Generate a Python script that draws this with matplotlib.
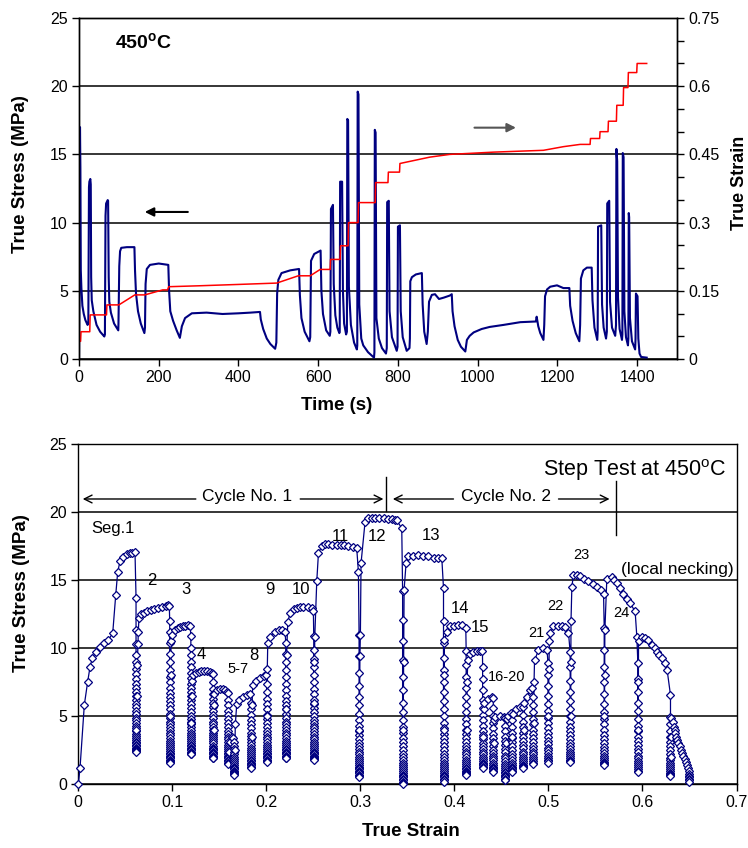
#!/usr/bin/env python3
"""Step test at 450 C: stress / strain time history and the stress-strain curve."""

import matplotlib

matplotlib.use("Agg")
import matplotlib.pyplot as plt
from matplotlib.ticker import FixedLocator, MultipleLocator

NAVY = "#000080"
FIG_W, FIG_H = 748, 848

plt.rcParams["font.family"] = ["Liberation Sans", "DejaVu Sans"]
plt.rcParams["mathtext.fontset"] = "custom"
plt.rcParams["mathtext.rm"] = "Liberation Sans"
plt.rcParams["mathtext.bf"] = "Liberation Sans:bold"

# ---------------------------------------------------------------- top panel
# (time s, true stress MPa)
stress_history = [
    (0, 0), (1.5, 6.0), (2.5, 17.0), (3.5, 14.0), (4.5, 6.5), (6, 5.2), (8.5, 3.9),
    (12, 3.3), (16, 2.85), (21.5, 2.5),
    (23.4, 2.6), (25, 12.6), (26, 13.0), (28.4, 13.2), (29.5, 12.8), (30.5, 6.0),
    (32, 4.3), (36, 3.5), (44, 2.5), (53, 2.0), (63.5, 1.65),
    (65, 1.8), (66.5, 10.5), (68, 11.4), (72, 11.65), (73, 11.6), (74.5, 6.0),
    (76, 4.2), (80, 3.4), (88, 2.6), (98.5, 2.1),
    (99, 2.6), (101, 6.8), (103, 7.9), (106, 8.15), (120, 8.2), (139, 8.2),
    (140.5, 6.5), (143, 4.8), (148, 3.5), (155, 2.6), (164, 1.9),
    (165.5, 2.3), (167, 5.5), (170, 6.6), (178, 6.9), (200, 7.0), (224, 6.9),
    (226, 5.0), (229, 3.5), (236, 2.8), (245, 2.1), (253, 1.55),
    (258, 2.4), (266, 3.0), (283, 3.35), (320, 3.4), (360, 3.3), (400, 3.35),
    (430, 3.4), (454, 3.45), (456, 2.9), (462, 2.2), (471, 1.5), (480, 1.1), (492, 0.75),
    (495, 1.2), (497, 4.8), (500, 5.8), (508, 6.3), (530, 6.5), (552, 6.6),
    (554, 4.7), (558, 3.0), (566, 2.0), (578, 1.3),
    (580, 1.6), (582, 7.2), (590, 7.7), (606, 7.95), (608, 5.0), (612, 3.3),
    (620, 2.1), (629, 1.7),
    (630.5, 2.0), (632, 11.0), (637, 11.3), (639, 5.5), (643, 3.2), (648, 2.3), (653, 1.9),
    (654, 2.0), (655, 13.0), (660, 13.0), (662, 5.0), (665, 2.6), (670, 1.8),
    (672, 2.0), (673, 17.6), (675, 17.5), (677, 5.3), (682, 2.5), (690, 1.2), (697, 0.7),
    (698, 1.0), (699, 19.6), (701, 19.4), (703, 4.0), (708, 1.5), (713, 1.0),
    (725, 0.5), (740, 0.1),
    (741, 0.5), (742, 16.8), (744, 16.6), (746, 3.0), (752, 1.5), (760, 0.8), (770, 0.4),
    (772, 0.8), (773, 11.5), (777, 11.6), (779, 3.5), (785, 1.6), (797, 0.6),
    (799, 0.9), (800, 9.7), (805, 9.8), (807, 3.5), (812, 1.6), (822, 0.6), (829, 0.8),
    (830, 1.5), (831, 5.7), (835, 6.0), (845, 6.2), (860, 6.3), (862, 4.0),
    (866, 2.0), (872, 1.1),
    (875, 2.0), (878, 4.2), (885, 4.7), (893, 4.75), (903, 4.4), (915, 4.5),
    (930, 4.65), (935, 4.75), (937, 3.5), (942, 2.4), (950, 1.4), (958, 0.9), (969, 0.55),
    (973, 1.4), (980, 1.7), (990, 1.95), (1010, 2.2), (1030, 2.35), (1065, 2.5),
    (1107, 2.7), (1146, 2.75), (1148, 3.1), (1152, 2.4), (1157, 1.9), (1165, 1.4),
    (1167, 2.5), (1169, 4.6), (1174, 5.1), (1182, 5.3), (1199, 5.4), (1215, 5.2),
    (1230, 5.2), (1232, 3.9), (1238, 2.8), (1246, 1.9), (1255, 1.3),
    (1257, 2.5), (1259, 5.9), (1265, 6.5), (1274, 6.7), (1286, 6.7), (1288, 4.3),
    (1293, 2.3), (1300, 1.4),
    (1301, 2.0), (1302, 9.7), (1310, 9.8), (1312, 4.0), (1316, 2.3), (1322, 1.5),
    (1324, 2.0), (1325, 11.4), (1330, 11.6), (1332, 4.2), (1337, 2.3), (1345, 1.7),
    (1347, 2.5), (1348, 15.4), (1350, 14.5), (1352, 4.5), (1356, 2.2), (1362, 1.4),
    (1363, 1.8), (1364, 15.1), (1366, 14.8), (1368, 3.5), (1372, 1.6), (1377, 1.0),
    (1378, 1.5), (1379, 10.7), (1380, 10.4), (1382, 3.0), (1387, 1.3), (1395, 0.7),
    (1396, 1.5), (1397, 4.8), (1401, 4.6), (1403, 1.5), (1406, 0.4), (1410, 0.15),
    (1424, 0.1),
]

# (time s, true strain)
strain_history = [
    (0, 0.039), (4, 0.039), (5, 0.060), (27, 0.060), (28, 0.097), (69, 0.097),
    (70, 0.119), (100, 0.119), (140, 0.141), (165, 0.141), (210, 0.152), (222, 0.152),
    (225, 0.159), (300, 0.161), (400, 0.164), (496, 0.167), (550, 0.183), (580, 0.183),
    (605, 0.197), (630, 0.197), (631, 0.219), (655, 0.219), (656, 0.249), (675, 0.249),
    (676, 0.300), (700, 0.300), (701, 0.344), (743, 0.344), (744, 0.388), (775, 0.388),
    (776, 0.411), (804, 0.411), (805, 0.430), (880, 0.444), (930, 0.450), (1040, 0.455),
    (1165, 0.459), (1215, 0.467), (1257, 0.472), (1282, 0.472), (1283, 0.485),
    (1306, 0.485), (1307, 0.500), (1327, 0.500), (1328, 0.523), (1348, 0.523),
    (1349, 0.558), (1365, 0.558), (1366, 0.597), (1377, 0.597), (1378, 0.630),
    (1399, 0.630), (1400, 0.650), (1424, 0.650),
]

# ------------------------------------------------------------- bottom panel
# loading + steady part of every segment: (true strain, true stress MPa)
loading_paths = [
    [(0, 0), (0.0018, 1.17), (0.0064, 5.83), (0.0100, 7.55), (0.0125, 8.64),
     (0.0149, 9.26), (0.0185, 9.73), (0.0231, 10.1), (0.0277, 10.36), (0.032, 10.6),
     (0.0366, 11.1), (0.0398, 13.9), (0.0419, 15.6), (0.0444, 16.4), (0.048, 16.7),
     (0.0514, 16.9), (0.055, 16.99), (0.0575, 17.0), (0.0603, 17.06)],
    [(0.0617, 4.0), (0.0621, 6.5), (0.0627, 8.8), (0.0635, 10.3), (0.0638, 11.2),
     (0.0645, 12.2), (0.067, 12.5), (0.070, 12.6), (0.073, 12.7), (0.077, 12.8),
     (0.081, 12.9), (0.085, 12.95), (0.089, 13.0), (0.093, 13.1), (0.0955, 13.2),
     (0.0968, 13.1)],
    [(0.0978, 5.0), (0.0982, 8.0), (0.0986, 10.5), (0.1000, 11.0), (0.1030, 11.35),
     (0.106, 11.45), (0.1080, 11.55), (0.111, 11.6), (0.1140, 11.65), (0.1170, 11.7),
     (0.1190, 11.6)],
    [(0.1200, 4.5), (0.1205, 6.5), (0.1210, 7.6), (0.1220, 8.0), (0.1250, 8.2),
     (0.128, 8.28), (0.1310, 8.3), (0.134, 8.3), (0.1370, 8.3), (0.140, 8.28),
     (0.1420, 8.2), (0.1430, 8.1)],
    [(0.1438, 4.0), (0.1442, 5.8), (0.1448, 6.6), (0.1480, 6.9), (0.1510, 7.0),
     (0.1540, 7.0), (0.1560, 6.95), (0.1580, 6.8), (0.1588, 6.7)],
    [(0.1598, 2.4), (0.1610, 3.1), (0.1630, 3.45), (0.1650, 3.4)],
    [(0.1665, 2.5), (0.1670, 4.4), (0.1685, 5.9), (0.1710, 6.2), (0.1750, 6.4),
     (0.1790, 6.55), (0.1830, 6.6)],
    [(0.1842, 3.5), (0.1848, 5.8), (0.1855, 7.3), (0.1890, 7.6), (0.1930, 7.8),
     (0.1970, 7.95), (0.2000, 8.0)],
    [(0.2008, 5.0), (0.2010, 8.5), (0.2015, 10.4), (0.2039, 10.85), (0.2090, 11.2),
     (0.2130, 11.3), (0.2167, 11.3), (0.2200, 11.2)],
    [(0.2210, 5.5), (0.2215, 9.5), (0.2228, 11.95), (0.2253, 12.6), (0.2290, 12.85),
     (0.2324, 12.95), (0.2360, 13.05), (0.2394, 13.06), (0.2440, 13.0), (0.2483, 12.95),
     (0.2500, 12.7)],
    [(0.2508, 6.0), (0.2512, 9.0), (0.2515, 10.85), (0.2536, 14.9), (0.2554, 16.98),
     (0.2590, 17.5), (0.2625, 17.65), (0.2660, 17.67), (0.2700, 17.6), (0.2750, 17.6),
     (0.2790, 17.55), (0.2830, 17.55), (0.2870, 17.5), (0.2920, 17.45), (0.2961, 17.35),
     (0.2979, 15.6)],
    [(0.2990, 4.0), (0.2995, 9.4), (0.3000, 11.0), (0.3007, 16.25), (0.3050, 19.3),
     (0.3086, 19.55), (0.3120, 19.55), (0.3160, 19.55), (0.3200, 19.6), (0.3250, 19.6),
     (0.3290, 19.5), (0.3334, 19.5), (0.3369, 19.43), (0.3387, 19.4), (0.3440, 18.8)],
    [(0.3455, 4.0), (0.3460, 9.0), (0.3465, 14.3), (0.3486, 16.25), (0.3511, 16.75),
     (0.3560, 16.8), (0.3617, 16.86), (0.3670, 16.8), (0.3724, 16.74), (0.3780, 16.65),
     (0.3830, 16.6), (0.3866, 16.6), (0.3884, 14.4)],
    [(0.3888, 4.0), (0.3891, 8.0), (0.3894, 10.6), (0.3919, 11.2), (0.3955, 11.6),
     (0.4000, 11.65), (0.4040, 11.7), (0.4079, 11.7), (0.4121, 11.45)],
    [(0.4130, 4.0), (0.4135, 7.5), (0.4142, 9.1), (0.4167, 9.6), (0.4200, 9.75),
     (0.4238, 9.8), (0.4270, 9.8), (0.4298, 9.8)],
    [(0.4303, 3.5), (0.4310, 5.5), (0.4318, 6.0), (0.4362, 6.3), (0.4400, 6.4),
     (0.4412, 6.35)],
    [(0.4420, 3.0), (0.4425, 4.7), (0.4432, 4.97), (0.4480, 5.0), (0.4526, 4.95),
     (0.4540, 4.85)],
    [(0.4550, 3.0), (0.4555, 4.8), (0.4570, 5.0), (0.4600, 5.25)],
    [(0.4615, 3.5), (0.4620, 5.2), (0.4650, 5.5), (0.4700, 5.7), (0.4725, 5.7)],
    [(0.4740, 4.0), (0.4745, 5.95), (0.4770, 6.45), (0.4806, 6.9), (0.4830, 7.05)],
    [(0.4843, 4.5), (0.4847, 7.5), (0.4852, 9.1), (0.4894, 9.85), (0.4947, 10.0),
     (0.4985, 9.9)],
    [(0.5000, 5.0), (0.5005, 8.5), (0.5010, 10.5), (0.5018, 11.1), (0.5053, 11.6),
     (0.5100, 11.65), (0.5140, 11.6), (0.5178, 11.55), (0.5213, 11.15)],
    [(0.5236, 5.0), (0.5238, 9.0), (0.5240, 12.0), (0.5249, 14.5), (0.5266, 15.4),
     (0.5302, 15.4), (0.5337, 15.27), (0.5380, 15.1), (0.5426, 14.9), (0.5470, 14.7),
     (0.5515, 14.5), (0.5560, 14.25), (0.5586, 14.0)],
    [(0.5596, 5.0), (0.5598, 8.0), (0.5600, 11.3), (0.5621, 15.1), (0.5674, 15.2),
     (0.5700, 15.0), (0.5727, 14.8), (0.5760, 14.4), (0.5798, 14.0), (0.5835, 13.6),
     (0.5869, 13.3), (0.5922, 12.7), (0.5940, 10.85)],
    [(0.5955, 4.0), (0.5956, 7.5), (0.5958, 10.5), (0.6000, 10.85), (0.6030, 10.75),
     (0.6060, 10.6), (0.6103, 10.24), (0.6130, 10.0), (0.6156, 9.75), (0.6180, 9.5),
     (0.6209, 9.26), (0.6240, 8.9), (0.6262, 8.4), (0.6298, 6.56)],
    [(0.6302, 2.0), (0.6304, 3.5), (0.6306, 4.9), (0.6320, 4.55), (0.6333, 4.2),
     (0.6342, 4.0), (0.6350, 3.75), (0.6360, 3.5), (0.6369, 3.25), (0.6380, 3.05),
     (0.6395, 2.8), (0.6408, 2.55), (0.6422, 2.28), (0.6435, 2.05), (0.6450, 1.85),
     (0.6462, 1.65), (0.6475, 1.42), (0.6485, 1.2), (0.6493, 0.95), (0.6495, 0.75)],
]

# strain at which each segment relaxes, and the stress readings while it relaxes
relax_strain = [
    0.0614, 0.0972, 0.1197, 0.1435, 0.1592, 0.1660, 0.1838, 0.2004, 0.2206, 0.2504,
    0.2986, 0.3449, 0.3884, 0.4125, 0.4300, 0.4415, 0.4543, 0.4610, 0.4732, 0.4838,
    0.4995, 0.5231, 0.5593, 0.5951, 0.6298, 0.6495,
]
relax_stress = [
    [13.7, 11.3, 10.3, 9.5, 9.0, 8.5, 8.1, 7.7, 7.4, 7.1, 6.8, 6.5, 6.2, 5.9, 5.7, 5.4,
     5.2, 4.9, 4.7, 4.5, 4.3, 4.1, 3.9, 3.7, 3.55, 3.4, 3.25, 3.1, 3.0, 2.9, 2.8, 2.7,
     2.6, 2.55, 2.5, 2.45, 2.4],
    [12.0, 11.2, 10.4, 9.6, 9.0, 8.4, 7.9, 7.5, 7.1, 6.7, 6.4, 6.1, 5.8, 5.5, 5.2, 4.9,
     4.6, 4.4, 4.2, 4.0, 3.8, 3.6, 3.4, 3.2, 3.05, 2.9, 2.75, 2.6, 2.45, 2.3, 2.2, 2.1,
     2.0, 1.9, 1.8, 1.7, 1.65, 1.6],
    [10.9, 10.0, 9.5, 9.0, 8.6, 8.2, 7.8, 7.4, 7.1, 6.8, 6.5, 6.2, 5.9, 5.6, 5.3, 5.0,
     4.8, 4.6, 4.4, 4.2, 4.0, 3.8, 3.6, 3.45, 3.3, 3.15, 3.0, 2.9, 2.8, 2.7, 2.6, 2.5,
     2.4, 2.3, 2.25, 2.2],
    [7.5, 7.0, 6.6, 6.3, 6.0, 5.7, 5.4, 5.1, 4.9, 4.6, 4.4, 4.2, 4.0, 3.8, 3.6, 3.45,
     3.3, 3.15, 3.0, 2.85, 2.7, 2.6, 2.5, 2.4, 2.3, 2.2, 2.1, 2.0, 1.95, 1.9],
    [6.2, 5.8, 5.4, 5.1, 4.8, 4.5, 4.2, 3.9, 3.7, 3.5, 3.3, 3.1, 2.9, 2.75, 2.6, 2.45,
     2.3, 2.2, 2.1, 2.0, 1.9, 1.8, 1.7, 1.6, 1.55, 1.5],
    [3.1, 2.8, 2.6, 2.4, 2.2, 2.0, 1.85, 1.7, 1.55, 1.4, 1.3, 1.2, 1.1, 1.0, 0.9, 0.8,
     0.75, 0.7],
    [6.0, 5.5, 5.1, 4.7, 4.4, 4.1, 3.8, 3.55, 3.3, 3.1, 2.9, 2.7, 2.5, 2.35, 2.2, 2.05,
     1.9, 1.8, 1.7, 1.6, 1.5, 1.4, 1.3, 1.25, 1.2],
    [7.4, 6.8, 6.3, 5.9, 5.5, 5.1, 4.8, 4.5, 4.2, 3.9, 3.7, 3.5, 3.3, 3.1, 2.9, 2.75,
     2.6, 2.45, 2.3, 2.2, 2.1, 2.0, 1.9, 1.8, 1.72, 1.66],
    [10.4, 9.6, 9.0, 8.4, 7.9, 7.4, 6.9, 6.5, 6.1, 5.8, 5.5, 5.2, 4.9, 4.6, 4.4, 4.2,
     4.0, 3.8, 3.6, 3.4, 3.2, 3.05, 2.9, 2.75, 2.6, 2.5, 2.4, 2.3, 2.2, 2.1, 2.0, 1.95,
     1.9],
    [10.9, 9.9, 9.2, 8.6, 8.0, 7.5, 7.0, 6.6, 6.2, 5.9, 5.6, 5.3, 5.0, 4.7, 4.5, 4.3,
     4.1, 3.9, 3.7, 3.5, 3.3, 3.1, 2.95, 2.8, 2.65, 2.5, 2.4, 2.3, 2.2, 2.1, 2.0, 1.9,
     1.85, 1.8],
    [11.0, 9.4, 8.2, 7.2, 6.4, 5.8, 5.2, 4.7, 4.3, 3.9, 3.6, 3.3, 3.0, 2.8, 2.6, 2.4,
     2.2, 2.0, 1.85, 1.7, 1.55, 1.4, 1.3, 1.2, 1.1, 1.0, 0.9, 0.8, 0.7, 0.62, 0.56],
    [14.2, 12.1, 10.5, 9.1, 7.9, 6.9, 6.0, 5.3, 4.7, 4.2, 3.8, 3.4, 3.1, 2.8, 2.5, 2.25,
     2.0, 1.8, 1.6, 1.4, 1.25, 1.1, 0.95, 0.8, 0.7, 0.6, 0.5, 0.4, 0.3, 0.2, 0.12, 0.05],
    [12.0, 10.4, 9.3, 8.4, 7.5, 6.8, 6.1, 5.5, 5.0, 4.5, 4.1, 3.7, 3.4, 3.1, 2.8, 2.5,
     2.25, 2.0, 1.8, 1.6, 1.4, 1.25, 1.1, 0.95, 0.8, 0.7, 0.6, 0.5, 0.4, 0.3, 0.2],
    [9.8, 8.8, 7.9, 7.1, 6.4, 5.8, 5.3, 4.8, 4.4, 4.0, 3.7, 3.4, 3.1, 2.8, 2.6, 2.4,
     2.2, 2.0, 1.8, 1.65, 1.5, 1.35, 1.2, 1.1, 1.0, 0.9, 0.8, 0.75, 0.7],
    [8.6, 7.7, 6.9, 6.2, 5.6, 5.1, 4.7, 4.3, 3.9, 3.6, 3.3, 3.0, 2.8, 2.6, 2.4, 2.2,
     2.0, 1.85, 1.7, 1.6, 1.5, 1.4, 1.3, 1.25, 1.2],
    [5.6, 5.0, 4.5, 4.1, 3.7, 3.4, 3.1, 2.8, 2.55, 2.3, 2.1, 1.9, 1.75, 1.6, 1.45, 1.3,
     1.2, 1.1, 1.0, 0.95, 0.9],
    [4.3, 3.9, 3.5, 3.2, 2.9, 2.6, 2.35, 2.1, 1.9, 1.7, 1.5, 1.35, 1.2, 1.05, 0.9, 0.8,
     0.7, 0.6, 0.5, 0.4, 0.35, 0.3],
    [4.7, 4.2, 3.8, 3.4, 3.1, 2.8, 2.5, 2.25, 2.0, 1.8, 1.6, 1.45, 1.3, 1.2, 1.1, 1.0,
     0.95, 0.9],
    [5.1, 4.6, 4.2, 3.8, 3.5, 3.2, 2.9, 2.65, 2.4, 2.2, 2.0, 1.85, 1.7, 1.55, 1.45, 1.35,
     1.25, 1.2],
    [6.4, 5.8, 5.3, 4.8, 4.4, 4.0, 3.7, 3.4, 3.1, 2.85, 2.6, 2.4, 2.2, 2.0, 1.85, 1.7,
     1.6, 1.5],
    [8.9, 8.0, 7.2, 6.5, 5.9, 5.4, 4.9, 4.5, 4.1, 3.8, 3.5, 3.2, 2.95, 2.7, 2.5, 2.3,
     2.1, 1.95, 1.8, 1.7, 1.6],
    [9.7, 8.6, 7.6, 6.8, 6.1, 5.5, 5.0, 4.6, 4.2, 3.9, 3.6, 3.3, 3.05, 2.8, 2.6, 2.4,
     2.2, 2.05, 1.9, 1.8, 1.72, 1.66],
    [11.5, 9.9, 8.6, 7.5, 6.6, 5.9, 5.3, 4.8, 4.4, 4.0, 3.6, 3.3, 3.0, 2.75, 2.5, 2.3,
     2.1, 1.95, 1.8, 1.65, 1.55, 1.48, 1.42],
    [8.9, 7.7, 6.8, 6.0, 5.4, 4.8, 4.3, 3.9, 3.5, 3.2, 2.9, 2.6, 2.35, 2.1, 1.9, 1.7,
     1.55, 1.4, 1.25, 1.1, 1.0, 0.93],
    [4.97, 4.4, 3.9, 3.5, 3.1, 2.8, 2.5, 2.2, 1.95, 1.75, 1.55, 1.4, 1.25, 1.1, 0.95,
     0.85, 0.75, 0.65, 0.6],
    [0.6, 0.5, 0.4, 0.3, 0.2],
]

seg_labels = ["Seg.1", "2", "3", "4", "5-7", "8", "9", "10", "11", "12", "13", "14",
              "15", "16-20", "21", "22", "23", "24"]
seg_label_strain = [0.0372, 0.078, 0.1145, 0.1305, 0.170, 0.187, 0.204, 0.237, 0.279,
                    0.3174, 0.3748, 0.406, 0.4273, 0.4550, 0.4876, 0.5071, 0.5347, 0.5780]
seg_label_stress = [18.77, 14.95, 14.3, 9.5, 8.5, 9.45, 14.3, 14.3, 18.2, 18.2, 18.26,
                    12.94, 11.54, 7.9, 11.1, 13.1, 16.86, 12.57]
small_labels = {"5-7", "16-20", "21", "22", "23", "24"}


def _px_axes(fig, left, top, right, bottom):
    """Axes box from pixel edges (origin top-left)."""
    return fig.add_axes([left / FIG_W, 1 - bottom / FIG_H,
                         (right - left) / FIG_W, (bottom - top) / FIG_H])


def _style(ax):
    for sp in ax.spines.values():
        sp.set_linewidth(1.0)
        sp.set_color("black")
    ax.set_ylim(0, 25)
    ax.set_yticks([0, 5, 10, 15, 20, 25])
    ax.yaxis.grid(True, color="black", linewidth=1.1)
    ax.set_axisbelow(True)
    ax.tick_params(direction="out", length=5, width=1, labelsize=11.5, pad=3)


def _draw_history(ax):
    _style(ax)
    t = [p[0] for p in stress_history]
    s = [p[1] for p in stress_history]
    ax.plot(t, s, color=NAVY, linewidth=1.5, zorder=3)
    ax.set_xlim(0, 1500)
    ax.set_xticks(range(0, 1401, 200), [str(v) for v in range(0, 1401, 200)])
    ax.set_xlabel("Time (s)", fontsize=13.5, fontweight="bold")
    ax.xaxis.set_label_coords(0.43, -0.112)
    ax.set_ylabel("True Stress (MPa)", fontsize=13.5, fontweight="bold")
    ax.yaxis.set_label_coords(-0.083, 0.543)
    ax.text(163, 23.2, r"450$^{\mathbf{o}}$C", fontsize=14, fontweight="bold",
            ha="center", va="center")
    ax.annotate("", xy=(165, 10.78), xytext=(273, 10.78),
                arrowprops=dict(arrowstyle="-|>", color="black", lw=1.5,
                                mutation_scale=13, shrinkA=0, shrinkB=0))
    ax.annotate("", xy=(1096, 16.96), xytext=(992, 16.96),
                arrowprops=dict(arrowstyle="-|>", color="#555555", lw=1.5,
                                mutation_scale=13, shrinkA=0, shrinkB=0))

    axr = ax.twinx()
    axr.plot([p[0] for p in strain_history], [p[1] for p in strain_history],
             color="red", linewidth=1.1)
    axr.set_ylim(0, 0.75)
    axr.yaxis.set_major_locator(FixedLocator([0, 0.15, 0.3, 0.45, 0.6, 0.75]))
    axr.set_yticklabels(["0", "0.15", "0.3", "0.45", "0.6", "0.75"])
    axr.yaxis.set_minor_locator(MultipleLocator(0.05))
    axr.tick_params(which="both", direction="out", length=5, width=1,
                    labelsize=11.5, pad=3)
    for sp in axr.spines.values():
        sp.set_linewidth(1.0)
    # the right-hand label sits against the figure edge
    ax.figure.text(739 / FIG_W, 1 - 183 / FIG_H, "True Strain", rotation=90,
                   fontsize=13, fontweight="bold", ha="center", va="center")


def _draw_stress_strain(ax):
    _style(ax)
    strain, stress = [], []
    for path, e_relax, drops in zip(loading_paths, relax_strain, relax_stress):
        for e, s in path:
            strain.append(e)
            stress.append(s)
        for s in drops:
            strain.append(e_relax)
            stress.append(s)
    ax.plot(strain, stress, color=NAVY, linewidth=0.9, marker="D", markersize=4.2,
            markerfacecolor="white", markeredgecolor=NAVY, markeredgewidth=0.9,
            zorder=3, clip_on=False)
    ax.set_xlim(0, 0.7)
    ticks = [0, 0.1, 0.2, 0.3, 0.4, 0.5, 0.6, 0.7]
    ax.set_xticks(ticks, ["0", "0.1", "0.2", "0.3", "0.4", "0.5", "0.6", "0.7"])
    ax.set_xlabel("True Strain", fontsize=13.5, fontweight="bold")
    ax.xaxis.set_label_coords(0.505, -0.115)
    ax.set_ylabel("True Stress (MPa)", fontsize=13.5, fontweight="bold")
    ax.yaxis.set_label_coords(-0.074, 0.562)

    for lab, e, s in zip(seg_labels, seg_label_strain, seg_label_stress):
        ax.text(e, s, lab, fontsize=10.5 if lab in small_labels else 12,
                ha="center", va="center", zorder=4)

    arrow = dict(arrowstyle="->", color="black", lw=1.0, mutation_scale=14,
                 shrinkA=0, shrinkB=0)
    ax.annotate("", xy=(0.0047, 20.96), xytext=(0.125, 20.96), arrowprops=arrow)
    ax.annotate("", xy=(0.3245, 20.96), xytext=(0.236, 20.96), arrowprops=arrow)
    ax.text(0.1795, 21.15, "Cycle No. 1", fontsize=12.5, ha="center", va="center")
    ax.plot([0.327, 0.327], [20.1, 22.6], color="black", lw=1.0)
    ax.annotate("", xy=(0.3345, 20.96), xytext=(0.399, 20.96), arrowprops=arrow)
    ax.annotate("", xy=(0.565, 20.96), xytext=(0.5107, 20.96), arrowprops=arrow)
    ax.text(0.4548, 21.15, "Cycle No. 2", fontsize=12.5, ha="center", va="center")
    ax.plot([0.572, 0.572], [18.33, 22.25], color="black", lw=1.0)
    ax.text(0.6895, 23.05, r"Step Test at 450$^{\mathrm{o}}$C", fontsize=15.5,
            ha="right", va="center")
    ax.text(0.6373, 15.8, "(local necking)", fontsize=12.5, ha="center", va="center")


def render(out_path="out.png"):
    fig = plt.figure(figsize=(FIG_W / 100, FIG_H / 100), dpi=100)
    _draw_history(_px_axes(fig, 79, 18, 677, 359))
    _draw_stress_strain(_px_axes(fig, 78.3, 444, 736.5, 784.3))
    fig.savefig(out_path, dpi=100)
    plt.close(fig)


if __name__ == "__main__":
    render()
